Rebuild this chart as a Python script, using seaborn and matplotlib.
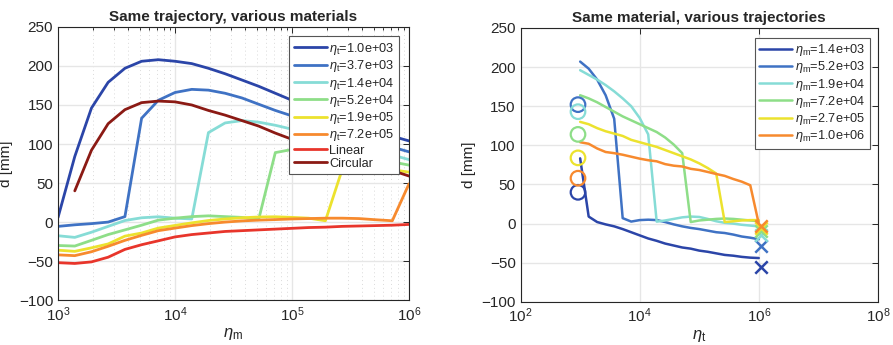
import numpy as np
import pandas as pd
import matplotlib
matplotlib.use("Agg")
import matplotlib.pyplot as plt
import seaborn as sns
from matplotlib.ticker import LogLocator, NullFormatter, FixedLocator

# ---------------- data ----------------
ETA = [1.00e3, 1.39e3, 1.93e3, 2.68e3, 3.73e3, 5.18e3, 7.20e3, 1.00e4, 1.39e4, 1.93e4,
       2.68e4, 3.73e4, 5.18e4, 7.20e4, 1.00e5, 1.39e5, 1.93e5, 2.68e5, 3.73e5, 5.18e5,
       7.20e5, 1.00e6]

# left panel: d vs eta_m for fixed eta_t
left_labels = [r"$\eta_{\rm t}$=1.0e+03", r"$\eta_{\rm t}$=3.7e+03", r"$\eta_{\rm t}$=1.4e+04",
               r"$\eta_{\rm t}$=5.2e+04", r"$\eta_{\rm t}$=1.9e+05", r"$\eta_{\rm t}$=7.2e+05",
               "Linear", "Circular"]
d_t_1e3 = [6, 84, 146, 179, 197, 206, 208, 206, 203, 197, 190, 182, 174, 165, 156, 147, 138, 131, 124, 117, 110, 104]
d_t_3p7e3 = [-5.5, -3.5, -2, 0, 7, 133, 156, 166, 170, 169, 165, 159, 151, 143, 136, 129, 122, 115, 109, 102, 96, 90]
d_t_1p4e4 = [-17.5, -19.6, -13, -5.5, 2, 5.5, 6.8, 5, 4, 114.6, 127, 130, 128, 124, 119, 113, 107, 101, 96, 91, 86, 80]
d_t_5p2e4 = [-30, -30.7, -23.4, -16, -10, -4, 2.5, 5, 7, 8, 7, 6, 3, 89, 93, 92, 89, 86, 83, 80, 77, 73]
d_t_1p9e5 = [-36, -37.5, -33, -28, -18, -14, -7.7, -4.3, -1, 2, 4, 5.5, 6.5, 6.8, 6, 5, 1.7, 67, 68, 68, 67, 64]
d_t_7p2e5 = [-42, -43, -38, -31, -23.4, -17, -11, -7.7, -4.5, -2, 0, 1.5, 2.5, 3.2, 4, 4.5, 5, 5, 4.5, 3, 1.7, 49]
d_linear = [-52, -53, -51, -45, -35, -29, -24, -19, -16, -14, -12, -11, -10, -9, -8, -7, -6.5, -5.5, -5, -4.5, -4, -3]
d_circular = [np.nan, 40, 92, 126, 144, 153, 155, 154, 150, 143, 137, 130, 123, 114, 106, 98, 91, 84, 78, 72, 66, 59]

# right panel: d vs eta_t for fixed eta_m
right_labels = [r"$\eta_{\rm m}$=1.4e+03", r"$\eta_{\rm m}$=5.2e+03", r"$\eta_{\rm m}$=1.9e+04",
                r"$\eta_{\rm m}$=7.2e+04", r"$\eta_{\rm m}$=2.7e+05", r"$\eta_{\rm m}$=1.0e+06"]
r_m_1p4e3 = [83.4, 9, 2, -1, -3.5, -7, -11, -15, -19, -22, -25.5, -28, -30.5, -32, -34.5, -36, -38, -40, -41, -42.5, -43.5, -44]
r_m_5p2e3 = [207, 198, 184, 164, 134, 7, 2.6, 4.5, 5, 4.5, 2, -1, -3.5, -5.5, -7, -9, -11, -12, -14, -16.5, -18, -20]
r_m_1p9e4 = [196, 190, 184, 177, 169, 160, 150, 135, 114, 2.5, 4, 6, 8, 9, 8.5, 6, 3, 1, 0, -1.5, -2.5, -3.5]
r_m_7p2e4 = [164, 160, 155, 149, 143, 137, 132, 127, 122, 117, 110, 101, 90, 2, 4, 5, 6, 6.5, 6, 5, 4, 3]
r_m_2p7e5 = [130, 127, 122, 118, 115, 112, 107, 104, 101, 98, 94, 90, 86, 82, 77, 71, 64, 2, 3, 4, 4.5, 4.5]
r_m_1e6 = [104, 102, 96, 91.5, 90, 88, 85.5, 83, 81, 79.6, 76, 74, 73, 70, 68.5, 66, 63.4, 61, 57, 53.6, 49, 0]

circ_x = [9.2e2] * 6
circ_y = [40, 152, 143, 114, 84, 58]
lin_x = [1.1e6] * 6
lin_y = [-55, -29, -14, -9, -5.5, -3]

colors = ["#2b45a8", "#3f72c4", "#86dcd6", "#8ede88", "#ece22e", "#f78a2e", "#e8352b", "#8b1a14"]

# ---------------- style ----------------
sns.set_theme(style="white")
plt.rcParams["font.family"] = ["Liberation Sans", "DejaVu Sans"]
plt.rcParams["mathtext.fontset"] = "custom"
plt.rcParams["mathtext.rm"] = "Liberation Sans"
plt.rcParams["mathtext.it"] = "Liberation Sans:italic"
plt.rcParams["xtick.direction"] = "in"
plt.rcParams["ytick.direction"] = "in"

fig = plt.figure(figsize=(8.93, 3.45), dpi=100)
axL = fig.add_axes([0.065, 0.130, 0.393, 0.792])
axR = fig.add_axes([0.583, 0.125, 0.400, 0.794])

def style_axes(ax):
    for s in ax.spines.values():
        s.set_color("#262626")
        s.set_linewidth(0.8)
    ax.tick_params(axis="both", which="both", top=True, right=True, colors="#262626",
                   labelsize=11, length=4, width=0.7)
    ax.tick_params(which="minor", length=2.5)
    ax.set_ylim(-100, 250)
    ax.set_yticks([-100, -50, 0, 50, 100, 150, 200, 250])
    ax.grid(True, which="major", color="#e6e6e6", linewidth=1.0)
    ax.set_axisbelow(True)
    ax.set_ylabel("d [mm]", fontsize=11, color="#262626")

def make_legend(ax, anchor):
    leg = ax.legend(loc="upper right", bbox_to_anchor=anchor, fontsize=9.2, frameon=True,
                    fancybox=False, edgecolor="#555555", handlelength=2.6, handletextpad=0.2,
                    labelspacing=0.1, borderpad=0.35, borderaxespad=0)
    leg.get_frame().set_linewidth(0.8)
    leg.get_frame().set_alpha(1)
    return leg

# ---------------- left panel ----------------
left_series = [d_t_1e3, d_t_3p7e3, d_t_1p4e4, d_t_5p2e4, d_t_1p9e5, d_t_7p2e5, d_linear, d_circular]
axL.set_xscale("log")
for ys, lab, c in zip(left_series, left_labels, colors):
    df = pd.DataFrame({"x": ETA, "y": ys}).dropna()
    sns.lineplot(data=df, x="x", y="y", ax=axL, color=c, lw=2.0, label=lab, sort=True)
axL.set_xlim(1e3, 1e6)
style_axes(axL)
axL.xaxis.set_major_locator(LogLocator(base=10, numticks=10))
axL.xaxis.set_minor_locator(LogLocator(base=10, subs=np.arange(2, 10), numticks=20))
axL.xaxis.set_minor_formatter(NullFormatter())
axL.grid(True, which="minor", axis="x", color="#dadada", linestyle=(0, (1, 3)), linewidth=0.7)
axL.set_xlabel(r"$\eta_{\rm m}$", fontsize=12, color="#262626", labelpad=2)
axL.set_title("Same trajectory, various materials", fontsize=11, fontweight="bold", pad=4)
make_legend(axL, (0.972, 0.965))

# ---------------- right panel ----------------
right_series = [r_m_1p4e3, r_m_5p2e3, r_m_1p9e4, r_m_7p2e4, r_m_2p7e5, r_m_1e6]
axR.set_xscale("log")
for ys, lab, c in zip(right_series, right_labels, colors[:6]):
    df = pd.DataFrame({"x": ETA, "y": ys})
    sns.lineplot(data=df, x="x", y="y", ax=axR, color=c, lw=1.8, label=lab, sort=True)
for xx, yy, c in zip(circ_x, circ_y, colors[:6]):
    sns.scatterplot(x=[xx], y=[yy], ax=axR, marker="o", s=110, facecolor="none",
                    edgecolor=c, linewidth=1.6, legend=False, zorder=5)
for xx, yy, c in zip(lin_x, lin_y, colors[:6]):
    sns.scatterplot(x=[xx], y=[yy], ax=axR, marker="x", s=80, color=c,
                    linewidth=1.8, legend=False, zorder=5)
axR.set_xlim(1e2, 1e8)
style_axes(axR)
axR.xaxis.set_major_locator(FixedLocator([1e2, 1e4, 1e6, 1e8]))
axR.xaxis.set_minor_locator(FixedLocator([]))
axR.set_xlabel(r"$\eta_{\rm t}$", fontsize=12, color="#262626", labelpad=2)
axR.set_title("Same material, various trajectories", fontsize=11, fontweight="bold", pad=4)
make_legend(axR, (0.977, 0.965))

fig.savefig("out.png", dpi=100)
